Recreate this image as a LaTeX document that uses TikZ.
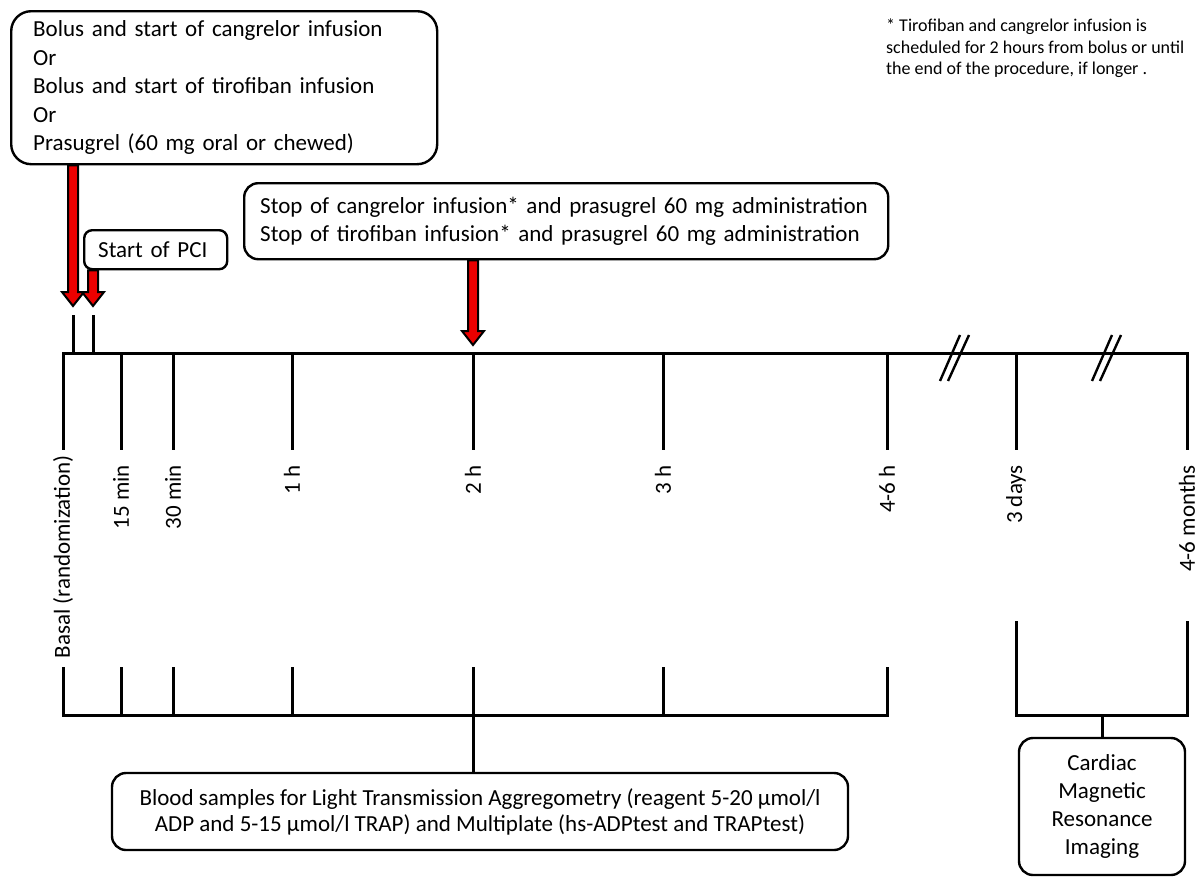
\documentclass[tikz,border=0pt]{standalone}
\usepackage{fontspec}
\setmainfont{Carlito}
\usetikzlibrary{calc}

\newcommand{\mainfs}{\fontsize{23}{27.5}\selectfont}
\newcommand{\notefs}{\fontsize{18}{21.5}\selectfont}
% fat red arrow from #1 (start) to #2 (tip)
\newcommand{\redarrow}[2]{%
  \draw[fatarrow] ($(#1)+(-5,0)$) -- ($(#2)+(-5,-14)$) -- ($(#2)+(-11,-14)$) -- (#2)
    -- ($(#2)+(11,-14)$) -- ($(#2)+(5,-14)$) -- ($(#1)+(5,0)$) -- cycle;}

\begin{document}
\begin{tikzpicture}[x=1pt, y=-1pt,
    roundbox/.style={draw, line width=2.4, rounded corners=14, font=\mainfs},
    tline/.style={line width=3, line cap=rect},
    fatarrow/.style={draw=black, fill=red!92!black, line width=2, line join=miter},
    ticklabel/.style={rotate=90, anchor=east, font=\mainfs, inner sep=0}]
  \useasboundingbox (0,0) rectangle (1202,878);

  % boxes
  \node[roundbox, rounded corners=20, anchor=north west, minimum height=153,
        text width=382, inner xsep=22, align=left,
        font=\fontsize{23}{28.5}\selectfont] (bolus) at (10,10)
    {Bolus and start of cangrelor infusion\\ Or\\ Bolus and start of tirofiban infusion\\ Or\\ Prasugrel (60 mg oral or chewed)};
  \node[roundbox, rounded corners=8, anchor=north west, minimum height=39,
        text width=115, inner xsep=14, align=left] (pci) at (83,229) {Start of PCI};
  \node[roundbox, anchor=north west, minimum height=76, text width=612,
        inner xsep=16, align=left] (stop) at (243,182)
    {Stop of cangrelor infusion* and prasugrel 60 mg administration\\ Stop of tirofiban infusion* and prasugrel 60 mg administration};
  \node[roundbox, minimum width=736, minimum height=77, align=center,
        font=\fontsize{23}{26}\selectfont] (blood) at (480,811.5)
    {Blood samples for Light Transmission Aggregometry (reagent 5-20 µmol/l\\ ADP and 5-15 µmol/l TRAP) and Multiplate (hs-ADPtest and TRAPtest)};
  \node[roundbox, minimum width=166, minimum height=137, align=center,
        font=\fontsize{23}{28}\selectfont] (cmr) at (1102,806.5)
    {Cardiac\\ Magnetic\\ Resonance\\ Imaging};
  \node[anchor=north west, align=left, inner sep=0, font=\notefs] (note) at (886,19)
    {* Tirofiban and cangrelor infusion is\\ scheduled for 2 hours from bolus or until\\ the end of the procedure, if longer .};

  % time axis
  \foreach \nm/\x in {t1/63, t2/121, t3/173, t4/292, t5/473, t6/663, t7/887, t8/1016, t9/1187}
    \coordinate (\nm) at (\x,353);
  \draw[tline] (t1) -- (t9);
  \foreach \nm in {t1,t2,t3,t4,t5,t6,t7,t8,t9}
    \draw[tline] (\nm) -- ++(0,95);
  \node[ticklabel] at ($(t1)+(0,102)$) {Basal (randomization)};
  \foreach \nm/\lab in {t2/15 min, t3/30 min, t4/1 h, t5/2 h, t6/3 h, t7/4-6 h, t8/3 days, t9/4-6 months}
    \node[ticklabel] at ($(\nm)+(0,112)$) {\lab};

  % axis breaks
  \foreach \cx in {954,1106} {
    \draw[line width=2.4] (\cx-14,381) -- (\cx+6,335);
    \draw[line width=2.4] (\cx-6,381) -- (\cx+15,335);
  }

  % red arrows
  \coordinate (a1) at (73,306);
  \coordinate (a2) at (93,306);
  \coordinate (a3) at ($(t5)+(0,-8)$);
  \foreach \c in {a1,a2}
    \draw[tline] ($(\c)+(0,10)$) -- (\c |- t1);
  \redarrow{bolus.south -| a1}{a1}
  \redarrow{pci.south -| a2}{a2}
  \redarrow{stop.south -| a3}{a3}

  % sampling brackets
  \foreach \nm in {t1,t2,t3,t4,t5,t6,t7}
    \draw[tline] ($(\nm)+(0,315)$) -- ($(\nm)+(0,362)$);
  \draw[tline] ($(t1)+(0,362)$) -- ($(t7)+(0,362)$);
  \draw[tline] ($(t5)+(0,362)$) -- (blood.north -| t5);
  \foreach \nm in {t8,t9}
    \draw[tline] ($(\nm)+(0,269)$) -- ($(\nm)+(0,362)$);
  \draw[tline] ($(t8)+(0,362)$) -- ($(t9)+(0,362)$);
  \draw[tline] (cmr.north |- t8) ++(0,362) -- (cmr.north);
\end{tikzpicture}
\end{document}
